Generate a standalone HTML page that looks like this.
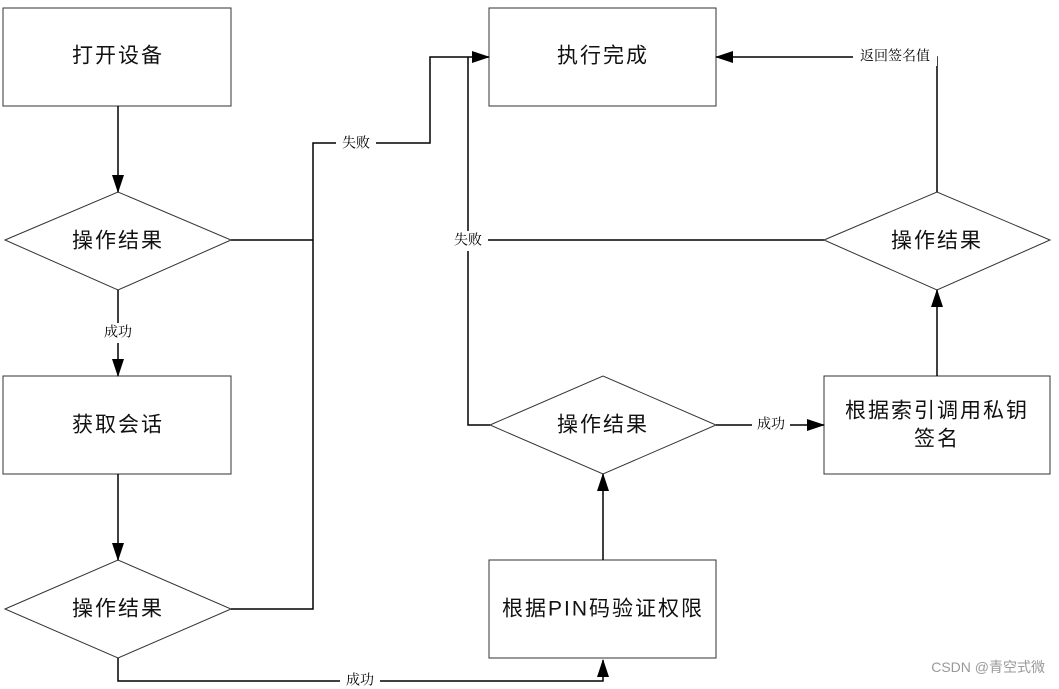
<!DOCTYPE html>
<html><head><meta charset="utf-8"><style>
html,body{margin:0;padding:0;background:#fff;}
svg{display:block;}
text{font-family:"Liberation Serif","Noto Serif CJK SC","Noto Sans CJK SC",serif;fill:#000;}
.n{font-family:"Liberation Sans","Noto Sans CJK SC",sans-serif;font-size:21px;letter-spacing:2px;text-anchor:middle;dominant-baseline:central;fill:#111;}
.e{font-size:14px;text-anchor:middle;dominant-baseline:central;}
</style></head><body>
<svg width="1059" height="689" viewBox="0 0 1059 689" xmlns="http://www.w3.org/2000/svg">
<defs><marker id="a" markerWidth="18" markerHeight="12" refX="17" refY="6" orient="auto" markerUnits="userSpaceOnUse"><path d="M0,0 L18,6 L0,12 z" fill="#000"/></marker></defs>
<g fill="#fff" stroke="#333" stroke-width="1">
<rect x="3" y="8" width="228" height="98"/>
<polygon points="5,240 118,192 231,240 118,290"/>
<rect x="3" y="376" width="228" height="98"/>
<polygon points="5,609 118,560 231,609 118,658"/>
<rect x="489" y="8" width="227" height="98"/>
<rect x="489" y="560" width="227" height="98"/>
<polygon points="490,425 603,376 716,425 603,474"/>
<rect x="824" y="376" width="226" height="98"/>
<polygon points="824,240 937,192 1050,240 937,290"/>
</g>
<g fill="none" stroke="#000" stroke-width="1.5">
<line x1="118" y1="106" x2="118" y2="192" marker-end="url(#a)"/>
<line x1="118" y1="290" x2="118" y2="376" marker-end="url(#a)"/>
<line x1="118" y1="474" x2="118" y2="560" marker-end="url(#a)"/>
<polyline points="231,240 313,240"/>
<polyline points="231,609 313,609 313,143 430,143 430,57 489,57" marker-end="url(#a)"/>
<polyline points="118,658 118,681 603,681 603,660" marker-end="url(#a)"/>
<line x1="603" y1="560" x2="603" y2="474" marker-end="url(#a)"/>
<polyline points="490,425 468,425 468,57"/>
<line x1="716" y1="425" x2="824" y2="425" marker-end="url(#a)"/>
<line x1="937" y1="376" x2="937" y2="290" marker-end="url(#a)"/>
<line x1="824" y1="240" x2="468" y2="240"/>
<polyline points="937,192 937,57 716,57" marker-end="url(#a)"/>
</g>
<text class="n" x="118" y="56">打开设备</text>
<text class="n" x="118" y="241">操作结果</text>
<text class="n" x="118" y="425">获取会话</text>
<text class="n" x="118" y="609">操作结果</text>
<text class="n" x="603" y="56">执行完成</text>
<text class="n" x="603" y="609">根据PIN码验证权限</text>
<text class="n" x="603" y="425">操作结果</text>
<text class="n" x="937" y="411">根据索引调用私钥</text>
<text class="n" x="937" y="439">签名</text>
<text class="n" x="937" y="241">操作结果</text>
<rect x="98" y="323" width="40" height="20" fill="#fff"/>
<text class="e" x="118" y="333">成功</text>
<rect x="336" y="133" width="40" height="20" fill="#fff"/>
<text class="e" x="356" y="144">失败</text>
<rect x="340" y="672" width="40" height="18" fill="#fff"/>
<text class="e" x="360" y="681">成功</text>
<rect x="450" y="231" width="38" height="20" fill="#fff"/>
<text class="e" x="468" y="241">失败</text>
<rect x="752" y="415" width="38" height="20" fill="#fff"/>
<text class="e" x="771" y="425">成功</text>
<rect x="853" y="48" width="84" height="18" fill="#fff"/>
<text class="e" x="895" y="57">返回签名值</text>
<text x="1045" y="672" style="font-size:14px;text-anchor:end;fill:#999;font-family:'Liberation Sans','Noto Sans CJK SC',sans-serif">CSDN @青空式微</text>
</svg>
</body></html>
